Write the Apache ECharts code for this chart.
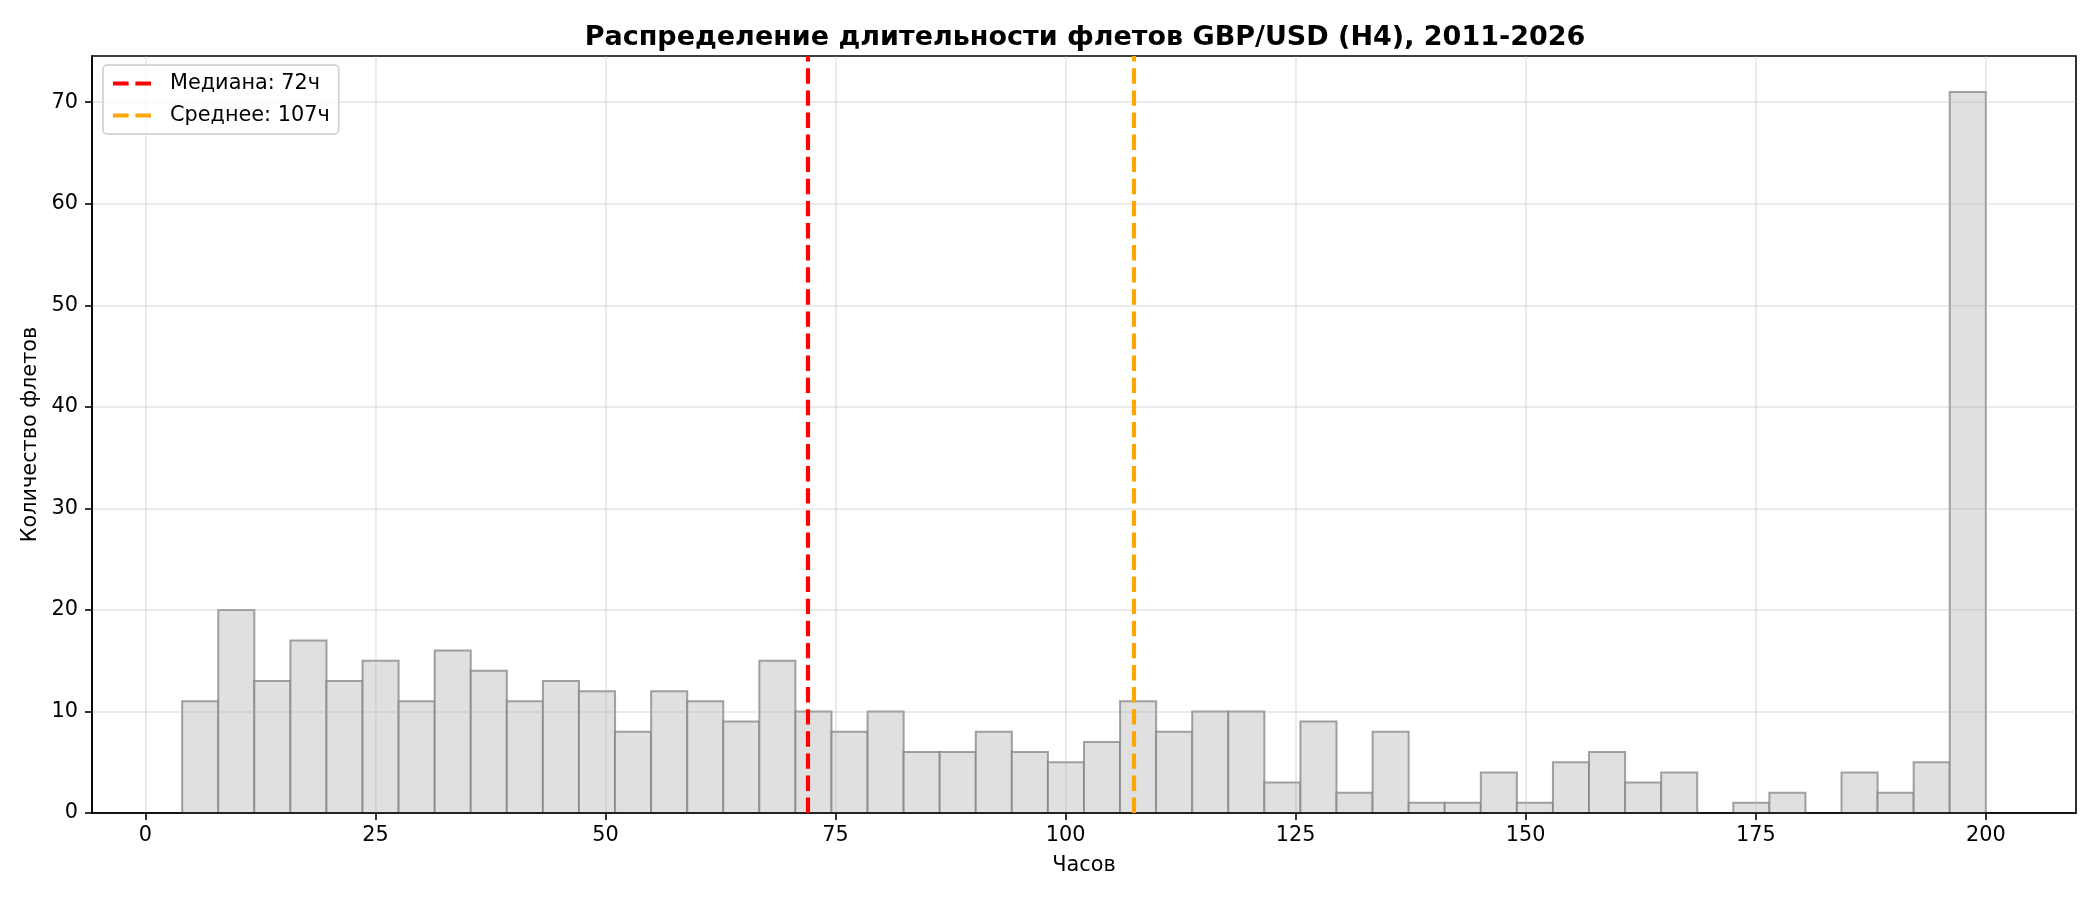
<!DOCTYPE html>
<html>
<head>
<meta charset="utf-8">
<script src="https://cdn.jsdelivr.net/npm/echarts@6/dist/echarts.min.js"></script>
<style>
html,body{margin:0;padding:0;background:#fff;}
#chart{width:2100px;height:900px;}
</style>
</head>
<body>
<div id="chart"></div>
<script>
// ---- data ----
const binEdges = [4, 7.92, 11.84, 15.76, 19.68, 23.6, 27.52, 31.44, 35.36, 39.28,
  43.2, 47.12, 51.04, 54.96, 58.88, 62.8, 66.72, 70.64, 74.56, 78.48,
  82.4, 86.32, 90.24, 94.16, 98.08, 102, 105.92, 109.84, 113.76, 117.68,
  121.6, 125.52, 129.44, 133.36, 137.28, 141.2, 145.12, 149.04, 152.96, 156.88,
  160.8, 164.72, 168.64, 172.56, 176.48, 180.4, 184.32, 188.24, 192.16, 196.08, 200];
const counts = [11, 20, 13, 17, 13, 15, 11, 16, 14, 11,
  13, 12, 8, 12, 11, 9, 15, 10, 8, 10,
  6, 6, 8, 6, 5, 7, 11, 8, 10, 10,
  3, 9, 2, 8, 1, 1, 4, 1, 5, 6,
  3, 4, 0, 1, 2, 0, 4, 2, 5, 71];
const medianHours = 72;
const meanHours = 107.4;
const xTicks = [0, 25, 50, 75, 100, 125, 150, 175, 200];
const yTicks = [0, 10, 20, 30, 40, 50, 60, 70];
const titleText = 'Распределение длительности флетов GBP/USD (H4), 2011-2026';
const xName = 'Часов';
const yName = 'Количество флетов';
const medianLabel = 'Медиана: ' + Math.round(medianHours) + 'ч';
const meanLabel = 'Среднее: ' + Math.round(meanHours) + 'ч';

// ---- chart ----
const FONT = 'DejaVu Sans';
const histData = counts.map((c, i) => [binEdges[i], binEdges[i + 1], c]);
const chart = echarts.init(document.getElementById('chart'), null, {renderer: 'canvas', width: 2100, height: 900});

const dash = [15.4, 6.7];
const dashIcon = 'path://M0 0H15.4V4.17H0Z M22.1 0H37.5V4.17H22.1Z';
const GRIDLINE = 'rgba(176,176,176,0.33)';
function vline(name, value, color) {
  return {
    type: 'line', name: name, data: [], symbol: 'none', z: 5,
    itemStyle: {color: color},
    lineStyle: {color: color, width: 4.17, type: dash},
    markLine: {
      silent: true, symbol: ['none', 'none'], animation: false,
      label: {show: false},
      lineStyle: {color: color, width: 4.17, type: dash},
      data: [{xAxis: value}]
    }
  };
}

chart.setOption({
  animation: false,
  backgroundColor: '#ffffff',
  textStyle: {fontFamily: FONT},
  title: {
    text: titleText, left: 1080, top: 19, textAlign: 'center',
    textStyle: {fontFamily: FONT, fontSize: 27, fontWeight: 'bold', color: '#000'}
  },
  grid: {
    left: 92, right: 24, top: 56, bottom: 87, containLabel: false,
    show: true, borderColor: '#000', borderWidth: 1.6, backgroundColor: 'transparent'
  },
  legend: {
    orient: 'vertical', left: 103, top: 65, z: 10,
    data: [
      {name: medianLabel, icon: dashIcon},
      {name: meanLabel, icon: dashIcon}
    ],
    symbolKeepAspect: true,
    itemWidth: 38, itemHeight: 20, itemGap: 11,
    padding: [8, 9, 8, 10],
    backgroundColor: 'rgba(255,255,255,0.8)',
    borderColor: '#cccccc', borderWidth: 1.5, borderRadius: 4,
    itemStyle: {borderWidth: 0},
    textStyle: {fontFamily: FONT, fontSize: 20.8, color: '#000', padding: [0, 0, 0, 14]}
  },
  xAxis: {
    type: 'value', min: -5.8, max: 209.8, z: 3,
    name: xName, nameLocation: 'middle', nameGap: 42,
    nameTextStyle: {fontFamily: FONT, fontSize: 20.8, color: '#000'},
    axisLine: {show: true, onZero: false, lineStyle: {color: '#000', width: 1.6}},
    axisTick: {show: true, inside: false, length: 7, lineStyle: {color: '#000', width: 1.6}, customValues: xTicks},
    axisLabel: {show: true, margin: 12, fontFamily: FONT, fontSize: 20.8, color: '#000', customValues: xTicks},
    splitLine: {show: true, lineStyle: {color: GRIDLINE, width: 1.6}}
  },
  yAxis: {
    type: 'value', min: 0, max: 74.55, z: 3,
    name: yName, nameLocation: 'middle', nameGap: 49, nameRotate: 90,
    nameTextStyle: {fontFamily: FONT, fontSize: 20.8, color: '#000'},
    axisLine: {show: true, onZero: false, lineStyle: {color: '#000', width: 1.6}},
    axisTick: {show: true, inside: false, length: 7, lineStyle: {color: '#000', width: 1.6}, customValues: yTicks},
    axisLabel: {show: true, margin: 14, fontFamily: FONT, fontSize: 20.8, color: '#000', customValues: yTicks},
    splitLine: {show: true, lineStyle: {color: GRIDLINE, width: 1.6}}
  },
  series: [
    {
      type: 'custom', name: 'hist', data: histData, z: 1,
      encode: {x: [0, 1], y: 2},
      renderItem: function (params, api) {
        const x0 = api.value(0), x1 = api.value(1), h = api.value(2);
        if (!h) return null;
        const p0 = api.coord([x0, h]);
        const p1 = api.coord([x1, 0]);
        return {
          type: 'rect',
          shape: {x: p0[0], y: p0[1], width: p1[0] - p0[0], height: p1[1] - p0[1]},
          style: {fill: '#e0e0e0', stroke: 'rgba(128,128,128,0.72)', lineWidth: 2}
        };
      }
    },
    vline(medianLabel, medianHours, '#ff0000'),
    vline(meanLabel, meanHours, '#ffa500')
  ]
});
</script>
</body>
</html>
